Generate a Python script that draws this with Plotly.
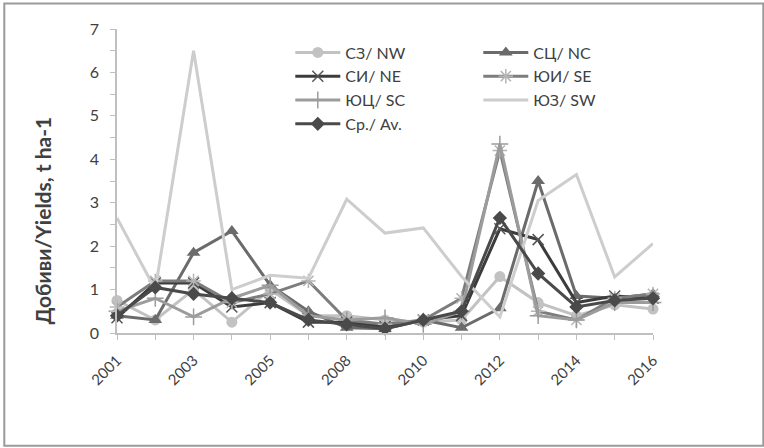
import plotly.graph_objects as go

years = ["2001", "2002", "2003", "2004", "2005", "2007", "2008", "2009",
         "2010", "2011", "2012", "2013", "2014", "2015", "2016"]
nw = [0.75, 0.3, 1.0, 0.25, 1.0, 0.4, 0.4, 0.3, 0.25, 0.3, 1.3, 0.7, 0.4, 0.65, 0.55]
nc = [0.4, 0.3, 1.85, 2.35, 1.1, 0.5, 0.12, 0.1, 0.3, 0.12, 0.57, 3.5, 0.85, 0.8, 0.9]
ne = [0.35, 1.15, 1.15, 0.6, 0.7, 0.25, 0.25, 0.15, 0.3, 0.4, 2.4, 2.15, 0.7, 0.85, 0.8]
se = [0.6, 1.2, 1.2, 0.7, 0.9, 1.2, 0.3, 0.2, 0.3, 0.8, 4.2, 0.5, 0.3, 0.8, 0.9]
sc = [0.5, 0.8, 0.37, 0.8, 1.1, 0.4, 0.3, 0.35, 0.2, 0.5, 4.35, 0.4, 0.3, 0.7, 0.7]
sw = [2.65, 1.0, 6.5, 1.0, 1.33, 1.26, 3.08, 2.3, 2.42, 1.3, 0.37, 3.05, 3.65, 1.29, 2.06]
av = [0.4, 1.05, 0.9, 0.8, 0.7, 0.3, 0.2, 0.1, 0.3, 0.5, 2.65, 1.37, 0.6, 0.75, 0.8]
y_title = "Добиви/Yields, t ha-1"

xi = list(range(len(years)))

W, H = 764, 448
ML, MR, MT, MB = 116.7, 111.3, 28.5, 115
PW, PH = W - ML - MR, H - MT - MB

font = "Lato, 'Open Sans', sans-serif"

series = [
    ("СЗ/ NW", nw, "#c2c2c2", dict(symbol="circle", size=11, color="#c2c2c2"), "legend"),
    ("СЦ/ NC", nc, "#6b6b6b", dict(symbol="triangle-up", size=12, color="#6b6b6b"), "legend2"),
    ("СИ/ NE", ne, "#3c3c3c", dict(symbol="x-thin", size=11, line=dict(color="#555555", width=1.5)), "legend"),
    ("ЮИ/ SE", se, "#7d7d7d", dict(symbol="asterisk", size=12, line=dict(color="#b5b5b5", width=1.5)), "legend2"),
    ("ЮЦ/ SC", sc, "#9c9c9c", dict(symbol="cross-thin", size=12, line=dict(color="#9c9c9c", width=1.5)), "legend"),
    ("ЮЗ/ SW", sw, "#cdcdcd", None, "legend2"),
    ("Ср./ Av.", av, "#4a4a4a", dict(symbol="diamond", size=11, color="#4a4a4a"), "legend"),
]

fig = go.Figure()
for name, vals, col, mk, lg in series:
    fig.add_trace(go.Scatter(
        x=xi, y=vals, name=name,
        mode="lines+markers" if mk else "lines",
        line=dict(color=col, width=3),
        marker=mk if mk else None,
        legend=lg, cliponaxis=False,
    ))

axis_col = "#bfbfbf"
fig.update_layout(
    width=W, height=H,
    margin=dict(l=ML, r=MR, t=MT, b=MB, pad=0),
    paper_bgcolor="white", plot_bgcolor="white",
    font=dict(family=font, size=15, color="#404040"),
    xaxis=dict(
        range=[0, 14], tickmode="array", tickvals=xi[::2], ticktext=years[::2],
        tickangle=-45, showgrid=False, zeroline=False, showline=True,
        linecolor=axis_col, linewidth=1.5, ticks="outside", ticklen=5,
        tickcolor=axis_col, tickfont=dict(size=15, color="#404040"),
        ticklabelstandoff=6,
        minor=dict(tickmode="array", tickvals=xi, ticks="outside", ticklen=5, tickcolor=axis_col),
    ),
    yaxis=dict(
        range=[0, 7], dtick=1, showgrid=False, zeroline=False, showline=True,
        linecolor=axis_col, linewidth=1.5, ticks="outside", ticklen=5,
        tickcolor=axis_col, tickfont=dict(size=16, color="#404040"),
        ticklabelstandoff=8,
        minor=dict(dtick=0.5, ticks="outside", ticklen=5, tickcolor=axis_col),
    ),
    legend=dict(x=(290 - ML) / PW, y=1 - (35 - MT) / PH, xanchor="left", yanchor="top",
                bgcolor="rgba(0,0,0,0)", font=dict(size=16), itemwidth=45, tracegroupgap=0),
    legend2=dict(x=(478 - ML) / PW, y=1 - (35 - MT) / PH, xanchor="left", yanchor="top",
                 bgcolor="rgba(0,0,0,0)", font=dict(size=16), itemwidth=45, tracegroupgap=0),
    showlegend=True,
)

# y-axis title (placed like the original, slightly below plot centre)
fig.add_annotation(text="<b>" + y_title + "</b>", textangle=-90, showarrow=False,
                   xref="paper", yref="paper",
                   x=(42 - ML) / PW, y=1 - (220 - MT) / PH,
                   xanchor="center", yanchor="middle",
                   font=dict(size=21, color="#404040", family=font))

# outer chart border
fig.add_shape(type="rect", xref="paper", yref="paper",
              x0=(4 - ML) / PW, x1=(763 - ML) / PW,
              y0=1 - (446 - MT) / PH, y1=1 - (3 - MT) / PH,
              line=dict(color="#9a9a9a", width=2), layer="below")

fig.write_html("out.html")
